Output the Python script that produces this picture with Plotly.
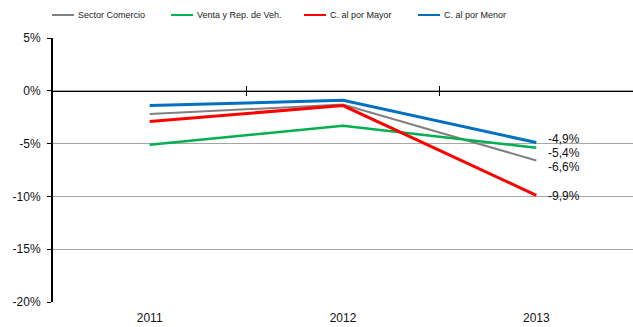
import plotly.graph_objects as go

# Year-over-year change by segment
years = ["2011", "2012", "2013"]
series_names = ["Sector Comercio", "Venta y Rep. de Veh.", "C. al por Mayor", "C. al por Menor"]
sector_comercio = [-2.2, -1.3, -6.6]
venta_rep_veh = [-5.1, -3.3, -5.4]
por_mayor = [-2.9, -1.4, -9.9]
por_menor = [-1.4, -0.9, -4.9]
y_ticks = [5, 0, -5, -10, -15, -20]

series_values = [sector_comercio, venta_rep_veh, por_mayor, por_menor]
colors = ["#808080", "#00B050", "#FF0000", "#0070C0"]
widths = [2, 2.5, 3, 3]
# small vertical nudges (px, up is positive) so the end labels stack apart
label_nudge = [-6, -5, -1, 4]

W, H = 633, 327
ml, mr, mt, mb = 53, 0, 38, 25
pw, ph = W - ml - mr, H - mt - mb

fig = go.Figure()
for name, vals, c, w in zip(series_names, series_values, colors, widths):
    fig.add_trace(go.Scatter(x=years, y=vals, mode="lines", name=name,
                             line=dict(color=c, width=w), showlegend=False,
                             hoverinfo="skip"))

# Value labels on the last year (category axes take the category index)
last = len(years) - 1
for vals, dy in zip(series_values, label_nudge):
    fig.add_annotation(x=last, y=vals[-1], text=f"{vals[-1]:.1f}%".replace(".", ","),
                       showarrow=False, xanchor="left", yanchor="middle",
                       xshift=10, yshift=dy,
                       font=dict(family="Liberation Sans, Arial", size=12, color="#111"))

# Legend row drawn along the top
legend_x = [52, 171, 304, 418]
ly = 1 + (mt - 15) / ph
for name, c, px in zip(series_names, colors, legend_x):
    x0 = (px - ml) / pw
    x1 = (px + 22 - ml) / pw
    fig.add_shape(type="line", xref="paper", yref="paper", x0=x0, x1=x1, y0=ly, y1=ly,
                  line=dict(color=c, width=2))
    fig.add_annotation(xref="paper", yref="paper", x=(px + 24 - ml) / pw, y=ly,
                       text=name, showarrow=False, xanchor="left", yanchor="middle",
                       font=dict(family="Liberation Sans, Arial", size=9, color="#222"))

zero_pos = (0 - y_ticks[-1]) / (y_ticks[0] - y_ticks[-1])

fig.update_layout(
    width=W, height=H,
    margin=dict(l=ml, r=mr, t=mt, b=mb),
    plot_bgcolor="white", paper_bgcolor="white",
    xaxis=dict(type="category", range=[-0.5, 2.5], showline=False, ticks="",
               showgrid=False, zeroline=False, ticklabelstandoff=7,
               tickfont=dict(family="Liberation Sans, Arial", size=12, color="#111")),
    yaxis=dict(range=[y_ticks[-1], y_ticks[0]], tickvals=y_ticks,
               ticktext=[f"{v}%" for v in y_ticks],
               showline=True, linecolor="black", linewidth=2,
               ticks="outside", ticklen=4, tickcolor="black", tickwidth=1,
               ticklabelstandoff=4,
               showgrid=True, gridcolor="#A6A6A6", gridwidth=1,
               zeroline=False,
               tickfont=dict(family="Liberation Sans, Arial", size=12, color="#111")),
    # category axis crossing at zero, with boundary tick marks
    xaxis2=dict(overlaying="x", anchor="free", position=zero_pos, side="bottom",
                range=[-0.5, 2.5], tickvals=[0.5, 1.5], showticklabels=False,
                showline=True, linecolor="black", linewidth=1,
                ticks="outside", ticklen=4, tickcolor="black", showgrid=False, zeroline=False),
    xaxis3=dict(overlaying="x", anchor="free", position=zero_pos, side="bottom",
                range=[-0.5, 2.5], tickvals=[0.5, 1.5], showticklabels=False,
                showline=False, ticks="inside", ticklen=5, tickcolor="black",
                showgrid=False, zeroline=False),
)
# invisible carriers so the crossing axes render
for ax in ["x2", "x3"]:
    fig.add_trace(go.Scatter(x=[0], y=[0], xaxis=ax, mode="markers",
                             marker=dict(opacity=0), showlegend=False, hoverinfo="skip"))

fig.write_html("out.html")
